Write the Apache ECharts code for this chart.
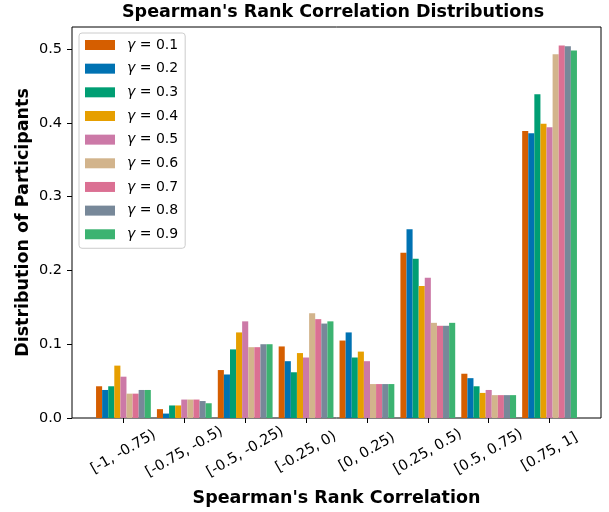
<!DOCTYPE html>
<html>
<head>
<meta charset="utf-8">
<script src="https://cdn.jsdelivr.net/npm/echarts@6/dist/echarts.min.js"></script>
<style>
  html, body { margin: 0; padding: 0; background: #fff; }
  #chart { width: 609px; height: 512px; }
</style>
</head>
<body>
<div id="chart"></div>
<script>
// bins of the correlation
const categories = ['[-1, -0.75)', '[-0.75, -0.5)', '[-0.5, -0.25)', '[-0.25, 0)',
  '[0, 0.25)', '[0.25, 0.5)', '[0.5, 0.75)', '[0.75, 1]'];

const seriesNames = ['γ = 0.1', 'γ = 0.2', 'γ = 0.3', 'γ = 0.4', 'γ = 0.5',
  'γ = 0.6', 'γ = 0.7', 'γ = 0.8', 'γ = 0.9'];

const g01 = [0.043, 0.012, 0.065, 0.097, 0.105, 0.224, 0.060, 0.389];
const g02 = [0.038, 0.006, 0.059, 0.077, 0.116, 0.256, 0.054, 0.386];
const g03 = [0.043, 0.017, 0.093, 0.062, 0.082, 0.216, 0.043, 0.439];
const g04 = [0.071, 0.017, 0.116, 0.088, 0.090, 0.179, 0.034, 0.399];
const g05 = [0.056, 0.025, 0.131, 0.082, 0.077, 0.190, 0.038, 0.394];
const g06 = [0.033, 0.025, 0.096, 0.142, 0.046, 0.129, 0.031, 0.493];
const g07 = [0.033, 0.025, 0.096, 0.134, 0.046, 0.125, 0.031, 0.505];
const g08 = [0.038, 0.023, 0.100, 0.128, 0.046, 0.125, 0.031, 0.504];
const g09 = [0.038, 0.020, 0.100, 0.131, 0.046, 0.129, 0.031, 0.498];

const yTicks = [0, 0.1, 0.2, 0.3, 0.4, 0.5];

const colors = ['#D55E00', '#0072B2', '#009E73', '#E69F00', '#CC79A7',
  '#D2B48C', '#DB7093', '#778899', '#3CB371'];

const allValues = [g01, g02, g03, g04, g05, g06, g07, g08, g09];
const FONT = 'DejaVu Sans';

const chart = echarts.init(document.getElementById('chart'), null, { renderer: 'canvas' });

const series = seriesNames.map((name, i) => ({
  name: name,
  type: 'bar',
  xAxisIndex: 0,
  yAxisIndex: 0,
  data: allValues[i],
  barGap: '0%',
  barCategoryGap: '10%',
  itemStyle: { color: colors[i] },
  emphasis: { disabled: true }
}));

const option = {
  animation: false,
  color: colors,
  title: {
    text: "Spearman's Rank Correlation Distributions",
    left: 122,
    top: 3,
    padding: 0,
    textStyle: { fontFamily: FONT, fontSize: 17.5, fontWeight: 'bold', color: '#000' }
  },
  legend: {
    orient: 'vertical',
    left: 79,
    top: 33,
    padding: [5, 7, 7, 6],
    itemWidth: 30,
    itemHeight: 10,
    itemGap: 9.66,
    icon: 'rect',
    data: seriesNames,
    backgroundColor: 'rgba(255,255,255,0.8)',
    borderColor: '#cccccc',
    borderWidth: 1,
    borderRadius: 3,
    formatter: function (name) {
      return '{g|γ}' + name.slice(1);
    },
    textStyle: {
      fontFamily: FONT,
      fontSize: 14,
      lineHeight: 14,
      color: '#000',
      padding: [0, 0, 0, 7],
      rich: {
        g: { fontFamily: FONT, fontSize: 14, fontStyle: 'italic', color: '#000' }
      }
    }
  },
  grid: [
    { left: 93, right: 29, top: 27, bottom: 94 },
    { left: 72, right: 8, top: 27, bottom: 94, show: true, borderColor: '#000', borderWidth: 1, backgroundColor: 'transparent' }
  ],
  xAxis: [
    {
      type: 'category',
      gridIndex: 0,
      data: categories,
      axisLine: { show: false },
      axisTick: { show: true, alignWithLabel: true, length: 5, lineStyle: { color: '#000' } },
      axisLabel: {
        interval: 0,
        rotate: 30,
        margin: 34,
        align: 'center',
        verticalAlign: 'middle',
        fontFamily: FONT,
        fontSize: 14.5,
        color: '#000'
      },
      splitLine: { show: false }
    },
    {
      type: 'value',
      gridIndex: 1,
      min: 0,
      max: 1,
      name: "Spearman's Rank Correlation",
      nameLocation: 'middle',
      nameGap: 71,
      nameTextStyle: { fontFamily: FONT, fontSize: 17.5, fontWeight: 'bold', color: '#000' },
      axisLine: { show: false },
      axisTick: { show: false },
      axisLabel: { show: false },
      splitLine: { show: false }
    }
  ],
  yAxis: [
    {
      type: 'value',
      gridIndex: 0,
      min: 0,
      max: 0.53,
      offset: 21,
      axisLine: { show: false },
      axisTick: { show: true, length: 5, customValues: yTicks, lineStyle: { color: '#000' } },
      axisLabel: {
        margin: 10,
        customValues: yTicks,
        formatter: v => v.toFixed(1),
        fontFamily: FONT,
        fontSize: 14.5,
        color: '#000'
      },
      splitLine: { show: false }
    },
    {
      type: 'value',
      gridIndex: 1,
      min: 0,
      max: 1,
      name: 'Distribution of Participants',
      nameLocation: 'middle',
      nameGap: 40,
      nameTextStyle: { fontFamily: FONT, fontSize: 17.5, fontWeight: 'bold', color: '#000' },
      axisLine: { show: false },
      axisTick: { show: false },
      axisLabel: { show: false },
      splitLine: { show: false }
    }
  ],
  series: series
};

chart.setOption(option);
</script>
</body>
</html>
